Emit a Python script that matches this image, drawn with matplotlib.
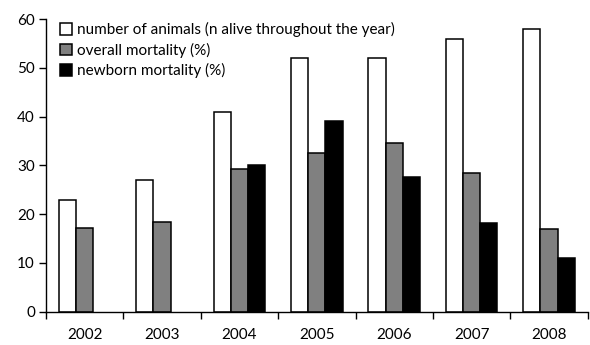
import numpy as np
import matplotlib
matplotlib.use('Agg')
import matplotlib.pyplot as plt

plt.rcParams['font.family'] = ['Lato', 'DejaVu Sans']

# data
years = ['2002', '2003', '2004', '2005', '2006', '2007', '2008']
animals = [23, 27.1, 41, 52, 52, 56, 58]
overall_mort = [17.2, 18.4, 29.2, 32.6, 34.6, 28.5, 17.0]
newborn_mort = [np.nan, np.nan, 30.0, 39.1, 27.7, 18.1, 11.1]

labels = ['number of animals (n alive throughout the year)',
          'overall mortality (%)',
          'newborn mortality (%)']

def main():
    fig = plt.figure(figsize=(5.9, 3.45), dpi=100)
    ax = fig.add_axes([0.078, 0.0965, 0.918, 0.848])

    x = np.arange(len(years))
    w = 0.222
    ax.bar(x - w, animals, w, color='white', edgecolor='black', linewidth=1.1, label=labels[0])
    ax.bar(x, overall_mort, w, color='#808080', edgecolor='black', linewidth=1.1, label=labels[1])
    ax.bar(x + w, newborn_mort, w, color='black', edgecolor='black', linewidth=1.1, label=labels[2])

    ax.set_xlim(-0.5, len(years) - 0.5)
    ax.set_ylim(0, 60)
    ax.set_yticks(range(0, 61, 10))

    # group boundaries as major ticks, year labels on minor ticks
    ax.set_xticks(np.arange(len(years) + 1) - 0.5)
    ax.set_xticklabels([])
    ax.set_xticks(x, minor=True)
    ax.set_xticklabels(years, minor=True)
    ax.tick_params(axis='x', which='major', direction='out', length=5, width=1)
    ax.tick_params(axis='x', which='minor', length=0, pad=12, labelsize=11)
    ax.tick_params(axis='y', direction='out', length=5, width=1, labelsize=11, pad=3)

    for s in ['top', 'right']:
        ax.spines[s].set_visible(False)
    for s in ['left', 'bottom']:
        ax.spines[s].set_linewidth(1)

    ax.legend(loc='upper left', bbox_to_anchor=(0.026, 0.99), frameon=False,
              fontsize=11, handlelength=0.8, handleheight=0.8,
              handletextpad=0.3, labelspacing=0.36, borderaxespad=0,
              borderpad=0)

    plt.savefig('out.png', dpi=100)
    plt.close()

if __name__ == "__main__":
    main()
